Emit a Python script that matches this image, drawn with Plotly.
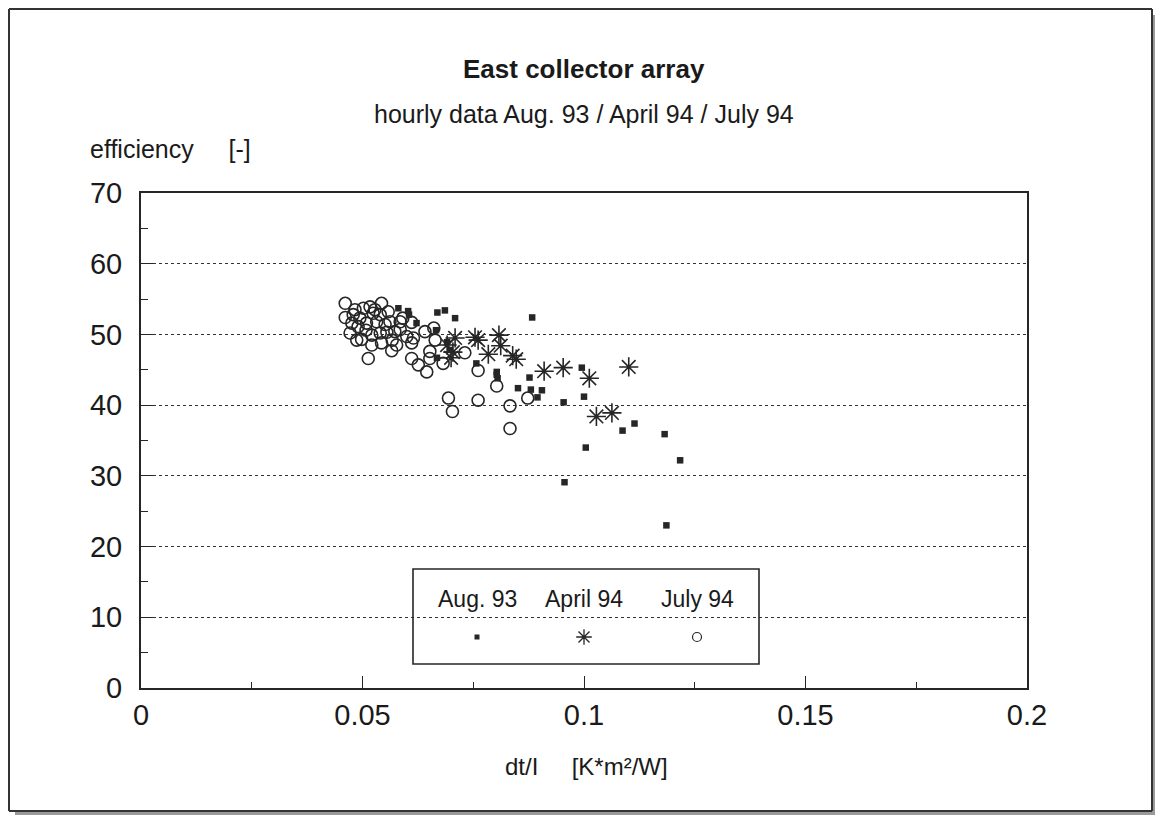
import plotly.graph_objects as go

# ---------------- data ----------------
aug93_x = [0.0581, 0.0603, 0.0605, 0.0622, 0.0669, 0.0686, 0.0709, 0.0883, 0.0666, 0.0691,
           0.0698, 0.0668, 0.0757, 0.0803, 0.0803, 0.0805, 0.0877, 0.0851, 0.0880, 0.0905,
           0.0895, 0.0954, 0.0995, 0.1000, 0.1087, 0.1114, 0.1182, 0.1217, 0.1004, 0.0956,
           0.1186]
aug93_y = [53.7, 53.3, 52.8, 51.6, 53.1, 53.4, 52.3, 52.4, 50.6, 48.9,
           47.8, 46.7, 45.9, 44.7, 44.3, 43.8, 43.9, 42.4, 42.2, 42.1,
           41.1, 40.4, 45.3, 41.2, 36.4, 37.4, 35.9, 32.2, 34.0, 29.1,
           23.0]

apr94_x = [0.0709, 0.0691, 0.0704, 0.0700, 0.0754, 0.0761, 0.0808, 0.0812, 0.0784, 0.0839,
           0.0847, 0.0910, 0.0953, 0.1012, 0.1101, 0.1028, 0.1063]
apr94_y = [49.5, 48.5, 47.5, 46.7, 49.6, 49.2, 49.9, 48.4, 47.2, 47.0,
           46.5, 44.8, 45.3, 43.8, 45.4, 38.4, 38.9]

jul94_x = [0.0461, 0.0483, 0.0479, 0.0502, 0.0517, 0.0543, 0.0494, 0.0476, 0.0524, 0.0540,
           0.0558, 0.0509, 0.0532, 0.0562, 0.0585, 0.0472, 0.0487, 0.0498, 0.0521, 0.0540,
           0.0555, 0.0573, 0.0585, 0.0521, 0.0543, 0.0566, 0.0577, 0.0513, 0.0611, 0.0600,
           0.0615, 0.0611, 0.0641, 0.0611, 0.0626, 0.0645, 0.0652, 0.0652, 0.0664, 0.0682,
           0.0731, 0.0661, 0.0761, 0.0803, 0.0694, 0.0703, 0.0761, 0.0833, 0.0833, 0.0873,
           0.0490, 0.0551, 0.0567, 0.0461, 0.0508, 0.0528, 0.0591]
jul94_y = [54.4, 53.5, 52.8, 53.7, 53.9, 54.4, 52.3, 51.6, 53.0, 52.8,
           53.2, 51.6, 51.8, 51.8, 51.8, 50.2, 49.2, 49.3, 49.9, 50.2,
           50.3, 50.4, 50.7, 48.5, 48.8, 47.7, 48.5, 46.6, 51.7, 49.7,
           49.5, 48.8, 50.4, 46.6, 45.7, 44.7, 47.6, 46.6, 49.2, 45.9,
           47.4, 50.9, 44.9, 42.7, 41.0, 39.1, 40.7, 39.9, 36.7, 41.0,
           51.1, 51.4, 49.2, 52.4, 50.6, 53.5, 52.3]

series_names = ["Aug. 93", "April 94", "July 94"]
x_tickvals = [0, 0.05, 0.1, 0.15, 0.2]
x_ticktext = ["0", "0.05", "0.1", "0.15", "0.2"]
y_tickvals = [0, 10, 20, 30, 40, 50, 60, 70]

# ---------------- layout geometry (page pixels) ----------------
OFF = 8                              # browser body margin
W, H = 1163 - OFF, 823 - 2 * OFF     # figure size so the page does not overflow
L, R, T, B = 141, 1027, 193, 688     # plot area edges on the page


def px(x):
    return (x - L) / (R - L)


def py(y):
    return (B - y) / (B - T)


INK = "#262626"
FONT = "Liberation Sans, Arial, sans-serif"

fig = go.Figure()

fig.add_trace(go.Scatter(x=jul94_x, y=jul94_y, mode="markers", name=series_names[2],
                         marker=dict(symbol="circle-open", size=12, color=INK,
                                     line=dict(width=1.6, color=INK)), showlegend=False))
fig.add_trace(go.Scatter(x=apr94_x, y=apr94_y, mode="markers", name=series_names[1],
                         marker=dict(symbol="asterisk-open", size=16, color=INK,
                                     line=dict(width=1.6, color=INK)), showlegend=False))
fig.add_trace(go.Scatter(x=aug93_x, y=aug93_y, mode="markers", name=series_names[0],
                         marker=dict(symbol="square", size=6.5, color=INK,
                                     line=dict(width=0)), showlegend=False))

# ---------------- custom legend (box with text above symbols) ----------------
leg_box = dict(x0=px(413), x1=px(759), y0=py(664), y1=py(569))
leg_text_x = [px(477), px(584), px(697)]
leg_text_y = py(599)
leg_sym_y = py(637)
leg_symbols = [dict(symbol="square", size=5, line=dict(width=0)),
               dict(symbol="asterisk-open", size=13, line=dict(width=1.3, color=INK)),
               dict(symbol="circle-open", size=9, line=dict(width=1.2, color=INK))]

fig.update_layout(xaxis2=dict(domain=[0, 1], range=[0, 1], anchor="y2", overlaying="x",
                              visible=False),
                  yaxis2=dict(domain=[0, 1], range=[0, 1], anchor="x2", overlaying="y",
                              visible=False))
for name, xs, sym in zip(series_names, leg_text_x, leg_symbols):
    fig.add_trace(go.Scatter(x=[xs], y=[leg_sym_y], xaxis="x2", yaxis="y2", mode="markers",
                             marker=dict(color=INK, **sym), showlegend=False, hoverinfo="skip"))


def seg(x0, y0, x1, y1, color="#333", width=2):
    return dict(type="line", xref="paper", yref="paper", x0=px(x0), y0=py(y0),
                x1=px(x1), y1=py(y1), line=dict(color=color, width=width), layer="below")


FR_L, FR_T, FR_R, FR_B = 9, 9, 1152, 811   # outer frame (page px)
shapes = [
    dict(type="rect", xref="paper", yref="paper", line=dict(color=INK, width=1.6),
         fillcolor="rgba(0,0,0,0)", **leg_box),
    # shadow of the outer frame
    seg(FR_L + 6, FR_B + 2.5, FR_R + 3, FR_B + 2.5, color="#9a9a9a", width=5),
    seg(FR_R + 2.5, FR_T + 6, FR_R + 2.5, FR_B + 3, color="#9a9a9a", width=5),
    # outer frame
    seg(FR_L, FR_T, FR_R, FR_T), seg(FR_R, FR_T, FR_R, FR_B),
    seg(FR_R, FR_B, FR_L, FR_B), seg(FR_L, FR_B, FR_L, FR_T),
]

annotations = [
    dict(text="<b>East collector array</b>", x=px(584), y=py(69), font=dict(size=26)),
    dict(text="hourly data Aug. 93 / April 94 / July 94", x=px(584), y=py(114), font=dict(size=25)),
    dict(text="efficiency     [-]", x=px(88), y=py(149), xanchor="left", font=dict(size=25)),
    dict(text="dt/I     [K*m²/W]", x=px(586), y=py(766), font=dict(size=24)),
]
for name, xs in zip(series_names, leg_text_x):
    annotations.append(dict(text=name, x=xs, y=leg_text_y, font=dict(size=23)))
for a in annotations:
    a.update(xref="paper", yref="paper", showarrow=False, yanchor="middle")
    a.setdefault("xanchor", "center")
    a["font"].update(family=FONT, color="#1a1a1a")

fig.update_layout(
    width=W, height=H,
    margin=dict(l=L - OFF, r=W - (R - OFF), t=T - OFF, b=H - (B - OFF), pad=0),
    paper_bgcolor="white", plot_bgcolor="white",
    font=dict(family=FONT, color="#1a1a1a"),
    shapes=shapes, annotations=annotations,
    xaxis=dict(range=[0, 0.2], tickvals=x_tickvals, ticktext=x_ticktext,
               showline=True, mirror=True, linecolor=INK, linewidth=2,
               ticks="inside", ticklen=12, tickwidth=1.2, tickcolor=INK,
               minor=dict(dtick=0.025, ticks="inside", ticklen=6, tickwidth=1, tickcolor=INK,
                          showgrid=False),
               showgrid=False, zeroline=False, tickfont=dict(size=29, family=FONT),
               ticklabelstandoff=0),
    yaxis=dict(range=[0, 70], tickvals=y_tickvals,
               showline=True, mirror=True, linecolor=INK, linewidth=2,
               ticks="inside", ticklen=12, tickwidth=1.2, tickcolor=INK,
               minor=dict(dtick=5, ticks="inside", ticklen=7, tickwidth=1, tickcolor=INK,
                          showgrid=False),
               showgrid=True, gridcolor="#333", gridwidth=1.2, griddash="dot",
               zeroline=False, tickfont=dict(size=29, family=FONT),
               ticklabelstandoff=11),
)

fig.write_html("out.html")
